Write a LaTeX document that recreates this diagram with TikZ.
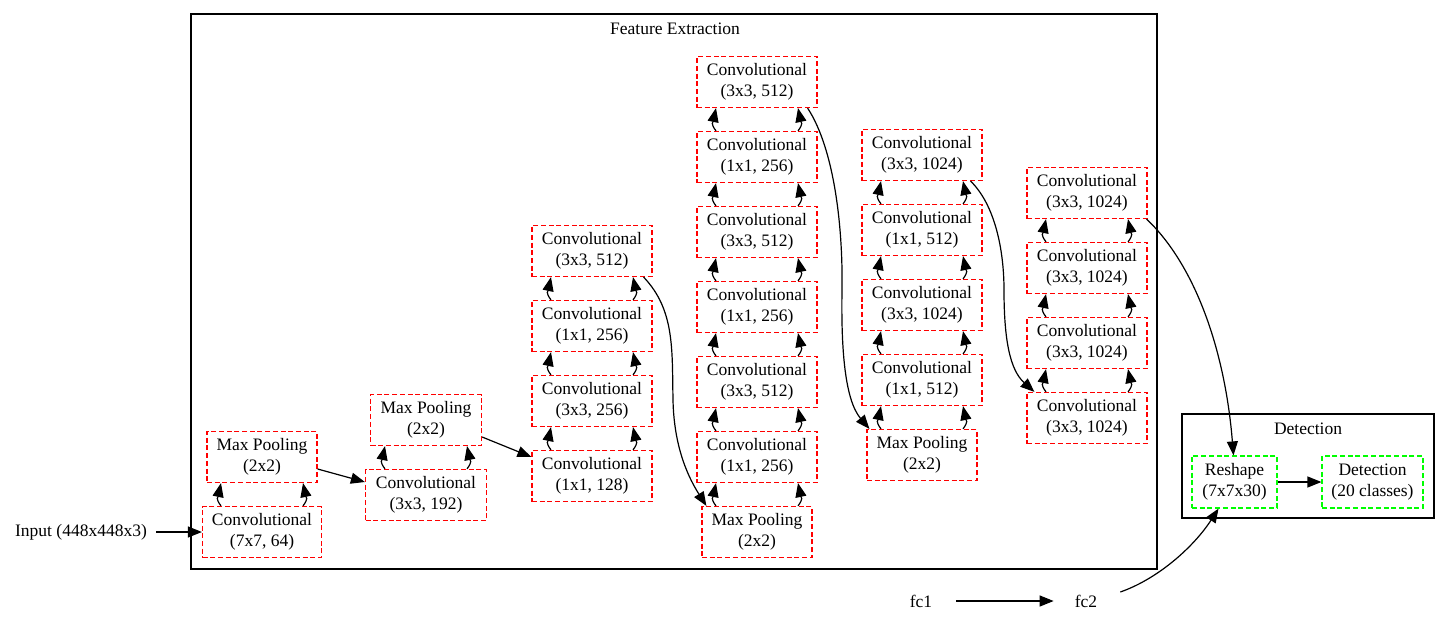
\documentclass[tikz,border=0pt]{standalone}
\usepackage{fontspec}
\setmainfont{Liberation Serif}
\usetikzlibrary{arrows.meta}
\tikzset{
  x=1pt,y=-1pt,
  lbl/.style={font=\fontsize{17.5}{21}\selectfont, align=center, inner sep=0pt},
  layer/.style={lbl, draw=red, line width=1.2pt, dash pattern=on 5pt off 2.7pt, minimum width=120pt, minimum height=51pt},
  pool/.style={layer, minimum width=110pt},
  det/.style={lbl, draw=green, line width=1.2pt, dash pattern=on 5pt off 2.7pt, minimum height=52pt},
  cluster/.style={draw=black, line width=1.2pt},
  arr/.style={draw=black, line width=1.2pt, -{Triangle[length=14pt,width=11pt]}},
}
\begin{document}
\begin{tikzpicture}
\useasboundingbox (0,0) rectangle (1449,629);
% clusters
\draw[cluster] (191,14) rectangle (1157,569);
\node[lbl] (fetitle) at (675,29) {Feature Extraction};
\draw[cluster] (1182,414) rectangle (1434,518);
\node[lbl] (dettitle) at (1308,429) {Detection};
% plain nodes
\node[lbl] (input) at (81,532) {Input (448x448x3)};
\node[lbl] (fc1) at (921,601) {fc1};
\node[lbl] (fc2) at (1086,601) {fc2};
% column 1
\node[layer, minimum width=119pt] (c1a) at (262,532) {Convolutional\\(7x7, 64)};
\node[pool] (c1b) at (262,457) {Max Pooling\\(2x2)};
% column 2
\node[layer, minimum width=121pt] (c2a) at (426,495) {Convolutional\\(3x3, 192)};
\node[pool, minimum width=111pt] (c2b) at (426,420) {Max Pooling\\(2x2)};
% column 3
\node[layer] (c3a) at (592,476) {Convolutional\\(1x1, 128)};
\node[layer] (c3b) at (592,401) {Convolutional\\(3x3, 256)};
\node[layer] (c3c) at (592,326) {Convolutional\\(1x1, 256)};
\node[layer] (c3d) at (592,251) {Convolutional\\(3x3, 512)};
% column 4
\node[pool] (c4a) at (757,532) {Max Pooling\\(2x2)};
\node[layer] (c4b) at (757,457) {Convolutional\\(1x1, 256)};
\node[layer] (c4c) at (757,382) {Convolutional\\(3x3, 512)};
\node[layer] (c4d) at (757,307) {Convolutional\\(1x1, 256)};
\node[layer] (c4e) at (757,232) {Convolutional\\(3x3, 512)};
\node[layer] (c4f) at (757,157) {Convolutional\\(1x1, 256)};
\node[layer] (c4g) at (757,82) {Convolutional\\(3x3, 512)};
% column 5
\node[pool] (c5a) at (922,455) {Max Pooling\\(2x2)};
\node[layer] (c5b) at (922,380) {Convolutional\\(1x1, 512)};
\node[layer] (c5c) at (922,305) {Convolutional\\(3x3, 1024)};
\node[layer] (c5d) at (922,230) {Convolutional\\(1x1, 512)};
\node[layer] (c5e) at (922,155) {Convolutional\\(3x3, 1024)};
% column 6
\node[layer] (c6a) at (1087,418) {Convolutional\\(3x3, 1024)};
\node[layer] (c6b) at (1087,343) {Convolutional\\(3x3, 1024)};
\node[layer] (c6c) at (1087,268) {Convolutional\\(3x3, 1024)};
\node[layer] (c6d) at (1087,193) {Convolutional\\(3x3, 1024)};
% detection
\node[det, minimum width=85pt] (reshape) at (1234.5,482) {Reshape\\(7x7x30)};
\node[det, minimum width=101pt] (detect) at (1372.5,482) {Detection\\(20 classes)};
% vertical pairs
\foreach \lo/\up in {c1a/c1b, c2a/c2b, c3a/c3b, c3b/c3c, c3c/c3d,
  c4a/c4b, c4b/c4c, c4c/c4d, c4d/c4e, c4e/c4f, c4f/c4g,
  c5a/c5b, c5b/c5c, c5c/c5d, c5d/c5e,
  c6a/c6b, c6b/c6c, c6c/c6d} {
  \draw[arr] ([xshift=-41pt]\lo.north) .. controls +(-6,-8) and +(-3,14) .. ([xshift=-41pt]\up.south);
  \draw[arr] ([xshift=41pt]\lo.north) .. controls +(6,-8) and +(3,14) .. ([xshift=41pt]\up.south);
}
% straight connectors
\draw[arr] ([xshift=9pt]input.east) -- (c1a);
\draw[arr] ([yshift=-12pt]c1b.east) -- ([yshift=13pt]c2a.west);
\draw[arr] ([yshift=-17pt]c2b.east) -- ([yshift=19pt]c3a.west);
\draw[arr] ([xshift=24pt]fc1.east) -- ([xshift=-21pt]fc2.west);
\draw[arr] (reshape) -- (detect);
% curved connectors
\draw[arr] ([xshift=-9pt]c3d.south east) .. controls (675,310) and (672,350) .. (673,400)
  .. controls (674,450) and (690,480) .. ([xshift=5pt]c4a.north west);
\draw[arr] ([xshift=-10pt]c4g.south east) .. controls (835,150) and (843,230) .. (842,290)
  .. controls (841,350) and (845,400) .. ([xshift=3pt]c5a.north west);
\draw[arr] ([xshift=-12pt]c5e.south east) .. controls (995,205) and (1004,250) .. (1004,290)
  .. controls (1004,340) and (1010,370) .. ([xshift=8pt]c6a.north west);
\draw[arr] ([xshift=-1pt]c6d.south east) .. controls (1195,265) and (1225,350) .. ([xshift=-1pt]reshape.north);
\draw[arr] ([xshift=23pt,yshift=9pt]fc2.east) .. controls (1160,578) and (1195,545) .. ([xshift=-16pt]reshape.south);
\end{tikzpicture}
\end{document}
